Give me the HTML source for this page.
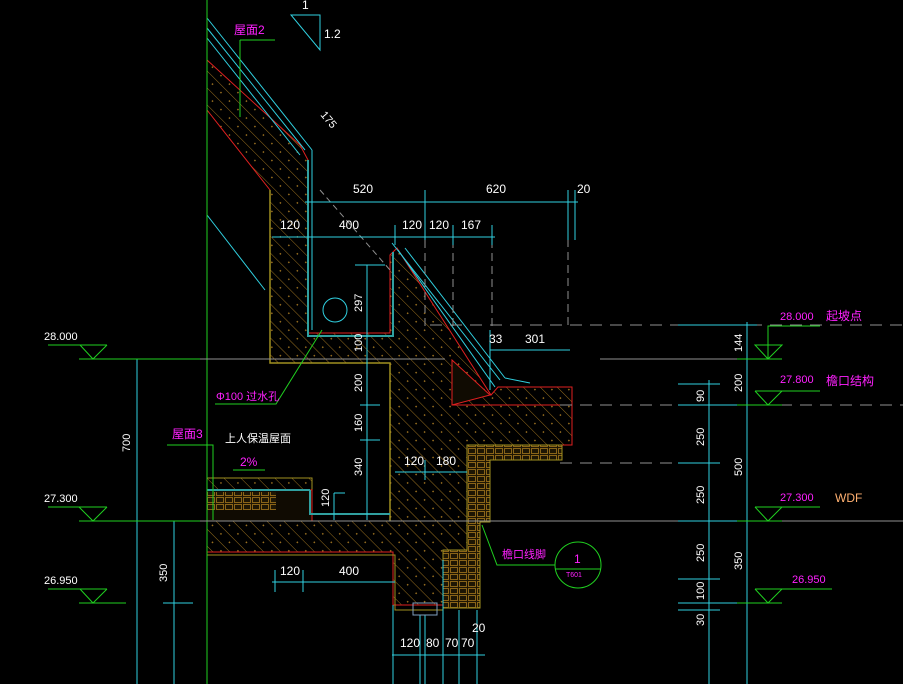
<!DOCTYPE html>
<html><head><meta charset="utf-8"><style>
html,body{margin:0;padding:0;background:#000;}
svg{display:block;}
text{font-family:"Liberation Sans","Noto Sans CJK SC",sans-serif;}
</style></head><body>
<svg width="903" height="684" viewBox="0 0 903 684" xmlns="http://www.w3.org/2000/svg">
<defs>
<pattern id="h" width="12" height="12" patternUnits="userSpaceOnUse" patternTransform="rotate(-45)">
<rect width="12" height="12" fill="#000"/><line x1="0" y1="0" x2="0" y2="12" stroke="#9a7020" stroke-width="1"/>
<rect x="6" y="5" width="1.5" height="1.5" fill="#9a7020"/></pattern>
<pattern id="b" width="9" height="7" patternUnits="userSpaceOnUse">
<rect width="9" height="7" fill="#1e1604"/><rect x="0.5" y="0.5" width="7" height="5" fill="none" stroke="#8a6418" stroke-width="1"/></pattern>
</defs>
<rect width="903" height="684" fill="#000"/>

<path d="M207,60 L300,145 L308,160 L308,333 L390,333 L390,255 L397,248 L491,395 L498,387 L572,387 L572,445 L467,445 L467,560 L443,560 L443,605 L393,605 L393,552 L207,552 L207,521 L390,521 L390,363 L270,363 L270,190 L207,110 Z" fill="url(#h)" stroke="#e02020" stroke-width="1"/>
<path d="M270,190 L270,363 L390,363 L390,521" fill="none" stroke="#a09020" stroke-width="1.5"/>
<path d="M308,160 L308,336 L393,336 L393,252" fill="none" stroke="#30a0a0" stroke-width="2"/>
<rect x="207" y="478" width="105" height="12" fill="url(#h)" stroke="#a09020"/>
<rect x="207" y="490" width="105" height="31" fill="#100b02" stroke="#e02020"/>
<rect x="207" y="492" width="69" height="18" fill="url(#b)"/>
<line x1="207" y1="490" x2="310" y2="490" stroke="#30a0a0" stroke-width="2"/>
<path d="M310,490 L310,514 L390,514" fill="none" stroke="#30a0a0" stroke-width="2"/>
<path d="M467,445 L562,445 L562,460 L490,460 L490,522 L480,522 L480,608 L443,608 L443,550 L467,550 Z" fill="url(#b)" stroke="#a09020"/>
<path d="M452,360 L490,395 L452,405 Z" fill="#100b02" stroke="#e02020"/>
<path d="M498,387 L572,387 L572,405 L452,405" fill="none" stroke="#e02020"/>
<path d="M207,555 L395,555 L395,610 L443,610" fill="none" stroke="#a09020"/>

<g stroke="#30d0e0" stroke-width="1" fill="none">
<line x1="207" y1="18" x2="312" y2="150"/><line x1="207" y1="28" x2="305" y2="150"/><line x1="207" y1="38" x2="300" y2="155"/>
<line x1="312" y1="150" x2="312" y2="330"/>
<line x1="392" y1="243" x2="500" y2="380"/><line x1="398" y1="250" x2="495" y2="387"/><line x1="405" y1="248" x2="505" y2="378"/>
<line x1="505" y1="378" x2="530" y2="383"/>
<line x1="207" y1="215" x2="265" y2="290"/>
<circle cx="335" cy="310" r="12"/>
</g>

<line x1="207" y1="0" x2="207" y2="684" stroke="#20d020"/>

<g stroke="#909090" stroke-width="1">
<line x1="79" y1="359" x2="445" y2="359"/>
<line x1="79" y1="521" x2="903" y2="521"/>
<line x1="600" y1="359" x2="780" y2="359"/>
<line x1="430" y1="325" x2="903" y2="325" stroke-dasharray="12,8"/>
<line x1="560" y1="405" x2="903" y2="405" stroke-dasharray="12,8"/>
<line x1="560" y1="463" x2="680" y2="463" stroke-dasharray="12,8"/>
<line x1="425" y1="240" x2="425" y2="330" stroke-dasharray="8,5"/>
<line x1="453" y1="240" x2="453" y2="330" stroke-dasharray="8,5"/>
<line x1="492" y1="240" x2="492" y2="330" stroke-dasharray="8,5"/>
<line x1="568" y1="200" x2="568" y2="330" stroke-dasharray="8,5"/>
<line x1="320" y1="190" x2="390" y2="270" stroke-dasharray="6,4"/>
</g>

<g stroke="#30d0e0" stroke-width="1" fill="none">
<line x1="305" y1="202" x2="578" y2="202"/><line x1="425" y1="190" x2="425" y2="240"/><line x1="568" y1="190" x2="568" y2="240"/><line x1="575" y1="190" x2="575" y2="240"/>
<line x1="272" y1="237" x2="495" y2="237"/><line x1="395" y1="225" x2="395" y2="245"/><line x1="453" y1="225" x2="453" y2="245"/><line x1="492" y1="225" x2="492" y2="245"/>
<line x1="490" y1="350" x2="570" y2="350"/><line x1="490" y1="330" x2="490" y2="390"/>
<line x1="355" y1="265" x2="385" y2="265"/><line x1="367" y1="265" x2="367" y2="520"/><line x1="360" y1="405" x2="380" y2="405"/><line x1="360" y1="440" x2="380" y2="440"/>
<line x1="395" y1="472" x2="467" y2="472"/><line x1="425" y1="460" x2="425" y2="480"/>
<line x1="334" y1="493" x2="345" y2="493"/><line x1="334" y1="493" x2="334" y2="520"/>
<line x1="272" y1="582" x2="395" y2="582"/><line x1="275" y1="570" x2="275" y2="592"/><line x1="303" y1="570" x2="303" y2="592"/>
<line x1="392" y1="655" x2="485" y2="655"/>
<line x1="393" y1="605" x2="393" y2="684"/><line x1="420" y1="615" x2="420" y2="684"/><line x1="425" y1="615" x2="425" y2="684"/><line x1="443" y1="560" x2="443" y2="684"/><line x1="459" y1="610" x2="459" y2="684"/><line x1="477" y1="610" x2="477" y2="684"/>
<rect x="413" y="603" width="24" height="12" stroke="#80a0c0"/>
<line x1="137" y1="359" x2="137" y2="684"/><line x1="174" y1="521" x2="174" y2="684"/><line x1="163" y1="603" x2="193" y2="603"/>
<line x1="709" y1="380" x2="709" y2="684"/><line x1="747" y1="322" x2="747" y2="684"/>
<line x1="678" y1="325" x2="757" y2="325"/><line x1="678" y1="384" x2="720" y2="384"/><line x1="678" y1="405" x2="757" y2="405"/><line x1="678" y1="463" x2="720" y2="463"/>
<line x1="678" y1="521" x2="757" y2="521"/><line x1="678" y1="579" x2="720" y2="579"/><line x1="678" y1="603" x2="757" y2="603"/><line x1="678" y1="610" x2="720" y2="610"/>
</g>

<g stroke="#20d020" stroke-width="1" fill="none">
<path d="M48,345 L107,345 M80,345 L93,359 L107,345 M79,359 L200,359"/>
<path d="M48,507 L107,507 M79,507 L93,521 L107,507 M79,521 L200,521"/>
<path d="M48,589 L107,589 M80,589 L93,603 L107,589 M79,603 L126,603"/>
<path d="M755,345 L782,345 L768,359 Z M768,359 L768,326 L820,326 M737,359 L782,359"/>
<path d="M755,391 L782,391 L768,405 L755,391 M782,391 L820,391 M737,405 L782,405"/>
<path d="M755,507 L782,507 L768,521 L755,507 M782,507 L820,507 M737,521 L782,521"/>
<path d="M755,589 L782,589 L768,603 L755,589 M782,589 L832,589 M737,603 L782,603"/>
<path d="M240,40 L275,40 M240,40 L240,117"/>
<path d="M167,445 L213,445 L213,520"/>
<path d="M215,404 L276,404 L322,330"/>
<path d="M233,470 L265,470"/>
<path d="M482,525 L497,565 L555,565"/>
<circle cx="578" cy="565" r="23"/>
<line x1="555" y1="569" x2="601" y2="569"/>
</g>
<path d="M291,15 L320,15 L320,50 Z" fill="none" stroke="#30d0e0"/>

<g fill="#fff" font-size="12">
<text x="302" y="9">1</text><text x="324" y="38">1.2</text>
<text x="353" y="193">520</text><text x="486" y="193">620</text><text x="577" y="193">20</text>
<text x="280" y="229">120</text><text x="339" y="229">400</text><text x="402" y="229">120</text><text x="429" y="229">120</text><text x="461" y="229">167</text>
<text x="489" y="343">33</text><text x="525" y="343">301</text>
<text x="404" y="465">120</text><text x="436" y="465">180</text>
<text x="280" y="575">120</text><text x="339" y="575">400</text>
<text x="400" y="647">120</text><text x="426" y="647">80</text><text x="445" y="647">70</text><text x="461" y="647">70</text><text x="472" y="632">20</text>
<text x="225" y="442" font-size="11">上人保温屋面</text>
<text x="44" y="340" font-size="11">28.000</text><text x="44" y="502" font-size="11">27.300</text><text x="44" y="584" font-size="11">26.950</text>
<g font-size="11">
<text transform="translate(362,312) rotate(-90)">297</text>
<text transform="translate(362,352) rotate(-90)">100</text>
<text transform="translate(362,392) rotate(-90)">200</text>
<text transform="translate(362,432) rotate(-90)">160</text>
<text transform="translate(362,476) rotate(-90)">340</text>
<text transform="translate(329,507) rotate(-90)">120</text>
<text transform="translate(130,452) rotate(-90)">700</text>
<text transform="translate(167,582) rotate(-90)">350</text>
<text transform="translate(320,115) rotate(50)">175</text>
<text transform="translate(742,352) rotate(-90)">144</text>
<text transform="translate(742,392) rotate(-90)">200</text>
<text transform="translate(704,402) rotate(-90)">90</text>
<text transform="translate(704,446) rotate(-90)">250</text>
<text transform="translate(742,476) rotate(-90)">500</text>
<text transform="translate(704,504) rotate(-90)">250</text>
<text transform="translate(704,562) rotate(-90)">250</text>
<text transform="translate(742,570) rotate(-90)">350</text>
<text transform="translate(704,600) rotate(-90)">100</text>
<text transform="translate(704,626) rotate(-90)">30</text>
</g>
</g>

<g fill="#ff20ff" font-size="12">
<text x="234" y="34">屋面2</text>
<text x="172" y="438">屋面3</text>
<text x="240" y="466">2%</text>
<text x="216" y="400" font-size="11">Φ100 过水孔</text>
<text x="502" y="558" font-size="11">檐口线脚</text>
<text x="574" y="563">1</text>
<text x="566" y="577" font-size="7">T601</text>
<text x="780" y="320" font-size="11">28.000</text><text x="826" y="320">起坡点</text>
<text x="780" y="383" font-size="11">27.800</text><text x="826" y="385">檐口结构</text>
<text x="780" y="501" font-size="11">27.300</text>
<text x="792" y="583" font-size="11">26.950</text>
</g>
<text x="835" y="502" fill="#ffb070" font-size="12">WDF</text>
</svg>
</body></html>
